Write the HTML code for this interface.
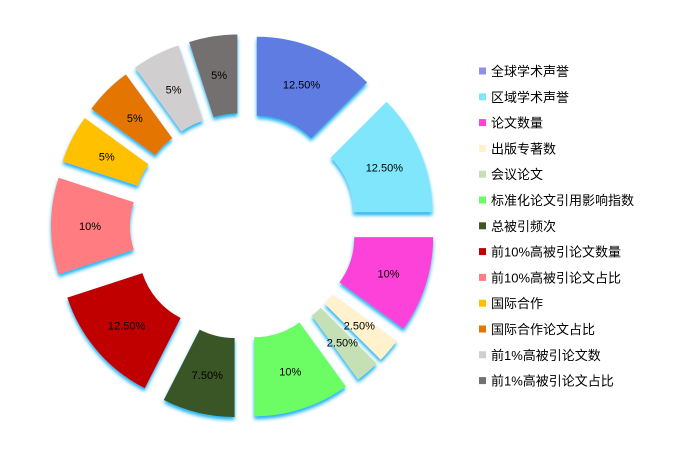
<!DOCTYPE html>
<html><head><meta charset="utf-8"><style>
html,body{margin:0;padding:0;background:#fff;width:696px;height:461px;overflow:hidden}
svg text{font-family:"Liberation Sans","Noto Sans CJK SC",sans-serif}
</style></head><body>
<svg id="s" width="696" height="461" xmlns="http://www.w3.org/2000/svg">
<defs><filter id="g" x="-30%" y="-30%" width="160%" height="160%">
<feDropShadow dx="0" dy="3" stdDeviation="1.8" flood-color="#1ab2f0" flood-opacity="1"/>
</filter></defs>
<g id="pie"></g><g id="lbl"></g><g id="leg"></g>
</svg>
<script>
var data=[
[12.5,"#5e7ce2","#9090e8","全球学术声誉","12.50%"],
[12.5,"#80e6fc","#80e6fc","区域学术声誉","12.50%"],
[10,"#fc42d8","#fc42d8","论文数量","10%"],
[2.5,"#fff2cc","#fff2cc","出版专著数","2.50%"],
[2.5,"#c5e0b4","#c5e0b4","会议论文","2.50%"],
[10,"#6cfc64","#6cfc64","标准化论文引用影响指数","10%"],
[7.5,"#3b5725","#3b5725","总被引频次","7.50%"],
[12.5,"#c00000","#c00000","前10%高被引论文数量","12.50%"],
[10,"#ff7c80","#ff7c80","前10%高被引论文占比","10%"],
[5,"#ffc000","#ffc000","国际合作","5%"],
[5,"#e47500","#e47500","国际合作论文占比","5%"],
[5,"#d0cece","#d0cece","前1%高被引论文数","5%"],
[5,"#747070","#747070","前1%高被引论文占比","5%"]];
var cx=243,cy=226,r0=77,R=156,d=36,ns="http://www.w3.org/2000/svg";
var pie=document.getElementById("pie"),lbl=document.getElementById("lbl"),leg=document.getElementById("leg");
function pt(a,r,ox,oy){a=a*Math.PI/180;return [(cx+ox+r*Math.sin(a)).toFixed(2),(cy+oy-r*Math.cos(a)).toFixed(2)];}
var acc=0;
data.forEach(function(s,i){
 var a0=acc*3.6,a1=(acc+s[0])*3.6;acc+=s[0];
 var m=(a0+a1)/2,mr=m*Math.PI/180,dd=d;
 var ox=dd*Math.sin(mr),oy=-dd*Math.cos(mr);
 var p1=pt(a0,R,ox,oy),p2=pt(a1,R,ox,oy),p3=pt(a1,r0,ox,oy),p4=pt(a0,r0,ox,oy);
 var large=(a1-a0)>180?1:0;
 var path=document.createElementNS(ns,"path");
 path.setAttribute("d","M"+p1+"A"+R+","+R+" 0 "+large+" 1 "+p2+"L"+p3+"A"+r0+","+r0+" 0 "+large+" 0 "+p4+"Z");
 path.setAttribute("fill",s[1]);path.setAttribute("filter","url(#g)");
 pie.appendChild(path);
 var lp=pt(m,117,ox,oy);
 var t=document.createElementNS(ns,"text");
 t.setAttribute("x",lp[0]);t.setAttribute("y",(+lp[1]+4).toFixed(1));
 t.setAttribute("text-anchor","middle");t.setAttribute("font-size","11");t.setAttribute("fill","#000");
 t.textContent=s[4];lbl.appendChild(t);
 var y=71+i*25.8;
 var r=document.createElementNS(ns,"rect");
 r.setAttribute("x",479);r.setAttribute("y",y-3.5);r.setAttribute("width",7);r.setAttribute("height",7);r.setAttribute("fill",s[2]);
 leg.appendChild(r);
 var lt=document.createElementNS(ns,"text");
 lt.setAttribute("x",491);lt.setAttribute("y",y+5);lt.setAttribute("font-size","13");lt.setAttribute("fill","#000");
 lt.textContent=s[3];leg.appendChild(lt);
});
</script>
</body></html>
